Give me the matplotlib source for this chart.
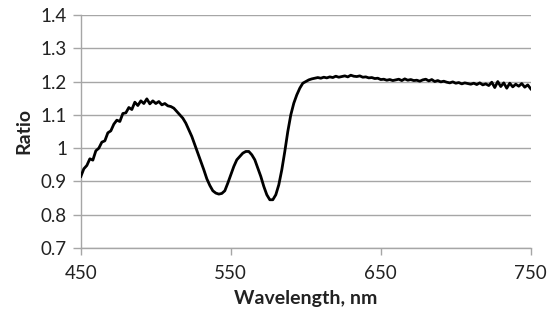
import matplotlib
matplotlib.use("Agg")
from matplotlib import pyplot as plt

# spectrum
wavelength = list(range(450, 752, 2))
ratio = [
    0.915, 0.938, 0.948, 0.968, 0.964, 0.992, 1.000, 1.018, 1.022, 1.046,  # 450-468
    1.052, 1.072, 1.084, 1.080, 1.104, 1.106, 1.122, 1.116, 1.138, 1.128,  # 470-488
    1.142, 1.134, 1.148, 1.133, 1.142, 1.134, 1.140, 1.130, 1.134, 1.127,  # 490-508
    1.125, 1.120, 1.110, 1.100, 1.090, 1.075, 1.055, 1.035, 1.010, 0.985,  # 510-528
    0.960, 0.935, 0.908, 0.888, 0.872, 0.865, 0.862, 0.864, 0.872, 0.895,  # 530-548
    0.920, 0.945, 0.965, 0.975, 0.985, 0.990, 0.990, 0.980, 0.965, 0.940,  # 550-568
    0.915, 0.885, 0.860, 0.845, 0.845, 0.860, 0.890, 0.935, 0.990, 1.050,  # 570-588
    1.100, 1.135, 1.160, 1.180, 1.195, 1.200, 1.205, 1.208, 1.210, 1.212,  # 590-608
    1.210, 1.213, 1.211, 1.214, 1.212, 1.216, 1.213, 1.215, 1.217, 1.214,  # 610-628
    1.219, 1.216, 1.215, 1.217, 1.213, 1.214, 1.211, 1.212, 1.209, 1.210,  # 630-648
    1.206, 1.207, 1.204, 1.206, 1.203, 1.205, 1.207, 1.203, 1.208, 1.204,  # 650-668
    1.206, 1.203, 1.204, 1.201, 1.205, 1.207, 1.202, 1.206, 1.200, 1.203,  # 670-688
    1.199, 1.201, 1.198, 1.196, 1.199, 1.195, 1.197, 1.193, 1.196, 1.194,  # 690-708
    1.192, 1.195, 1.191, 1.196, 1.190, 1.193, 1.188, 1.198, 1.182, 1.200,  # 710-728
    1.185, 1.196, 1.180, 1.195, 1.184, 1.192, 1.186, 1.194, 1.183, 1.190,  # 730-748
    1.178,                                                                 # 750
]
x_ticks = [450, 550, 650, 750]
y_ticks = [0.7, 0.8, 0.9, 1.0, 1.1, 1.2, 1.3, 1.4]
y_labels = ["0.7", "0.8", "0.9", "1", "1.1", "1.2", "1.3", "1.4"]

plt.rcParams["font.family"] = ["Lato", "DejaVu Sans"]
grid_color = "#a6a6a6"

fig = plt.figure(figsize=(5.5, 3.18), dpi=100)
ax = fig.add_axes([0.147, 0.22, 0.818, 0.733])

ax.plot(wavelength, ratio, color="black", linewidth=2.0, zorder=3)

ax.set_xlim(450, 750)
ax.set_ylim(0.7, 1.4)
ax.set_xticks(x_ticks)
ax.set_yticks(y_ticks)
ax.set_yticklabels(y_labels)
ax.yaxis.grid(True, color=grid_color, linewidth=1.0)
ax.set_axisbelow(True)

for side in ("top", "right"):
    ax.spines[side].set_visible(False)
for side in ("left", "bottom"):
    ax.spines[side].set_color(grid_color)
    ax.spines[side].set_linewidth(1.0)

ax.tick_params(axis="y", length=6, width=1.0, color=grid_color, labelsize=13.5, pad=4, labelcolor="#222222")
ax.tick_params(axis="x", length=5, width=1.0, color=grid_color, labelsize=13.5, pad=7, labelcolor="#222222")

ax.set_xlabel("Wavelength, nm", fontsize=14, fontweight="bold", labelpad=6, color="#222222")
ax.set_ylabel("Ratio", fontsize=14, fontweight="bold", labelpad=6, color="#222222")

fig.savefig("out.png", dpi=100)
plt.close(fig)
